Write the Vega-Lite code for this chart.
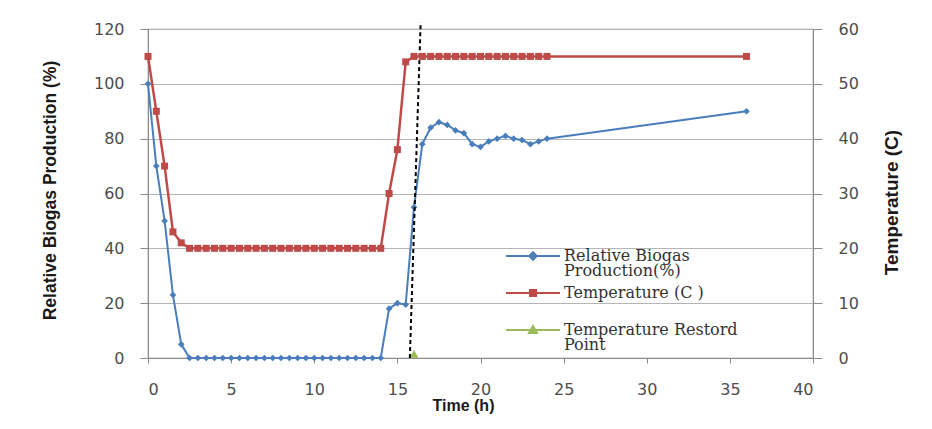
{
  "$schema": "https://vega.github.io/schema/vega-lite/v6.json",
  "width": 665,
  "height": 329,
  "autosize": {"type": "none"},
  "padding": {"left": 148, "top": 29, "right": 119, "bottom": 71},
  "background": "white",
  "config": {
    "view": {"stroke": "#8a8a8a", "strokeWidth": 1.2},
    "axis": {
      "labelFont": "DejaVu Sans",
      "labelFontSize": 16,
      "labelColor": "#4d4d4d",
      "titleFont": "Liberation Sans",
      "titleFontSize": 16,
      "titleFontWeight": "bold",
      "titleColor": "#1a1a1a",
      "domainColor": "#8a8a8a",
      "tickColor": "#8a8a8a",
      "gridColor": "#b5b5b5"
    }
  },
  "datasets": {
    "bio": [
      {"t": 0, "v": 100}, {"t": 0.5, "v": 70}, {"t": 1, "v": 50}, {"t": 1.5, "v": 23}, {"t": 2, "v": 5},
      {"t": 2.5, "v": 0}, {"t": 3, "v": 0}, {"t": 3.5, "v": 0}, {"t": 4, "v": 0}, {"t": 4.5, "v": 0},
      {"t": 5, "v": 0}, {"t": 5.5, "v": 0}, {"t": 6, "v": 0}, {"t": 6.5, "v": 0}, {"t": 7, "v": 0},
      {"t": 7.5, "v": 0}, {"t": 8, "v": 0}, {"t": 8.5, "v": 0}, {"t": 9, "v": 0}, {"t": 9.5, "v": 0},
      {"t": 10, "v": 0}, {"t": 10.5, "v": 0}, {"t": 11, "v": 0}, {"t": 11.5, "v": 0}, {"t": 12, "v": 0},
      {"t": 12.5, "v": 0}, {"t": 13, "v": 0}, {"t": 13.5, "v": 0}, {"t": 14, "v": 0},
      {"t": 14.5, "v": 18}, {"t": 15, "v": 20}, {"t": 15.5, "v": 19.5}, {"t": 16, "v": 55},
      {"t": 16.5, "v": 78}, {"t": 17, "v": 84}, {"t": 17.5, "v": 86}, {"t": 18, "v": 85},
      {"t": 18.5, "v": 83}, {"t": 19, "v": 82}, {"t": 19.5, "v": 78}, {"t": 20, "v": 77},
      {"t": 20.5, "v": 79}, {"t": 21, "v": 80}, {"t": 21.5, "v": 81}, {"t": 22, "v": 80},
      {"t": 22.5, "v": 79.5}, {"t": 23, "v": 78}, {"t": 23.5, "v": 79}, {"t": 24, "v": 80},
      {"t": 36, "v": 90}
    ],
    "temp": [
      {"t": 0, "v": 55}, {"t": 0.5, "v": 45}, {"t": 1, "v": 35}, {"t": 1.5, "v": 23}, {"t": 2, "v": 21},
      {"t": 2.5, "v": 20}, {"t": 3, "v": 20}, {"t": 3.5, "v": 20}, {"t": 4, "v": 20}, {"t": 4.5, "v": 20},
      {"t": 5, "v": 20}, {"t": 5.5, "v": 20}, {"t": 6, "v": 20}, {"t": 6.5, "v": 20}, {"t": 7, "v": 20},
      {"t": 7.5, "v": 20}, {"t": 8, "v": 20}, {"t": 8.5, "v": 20}, {"t": 9, "v": 20}, {"t": 9.5, "v": 20},
      {"t": 10, "v": 20}, {"t": 10.5, "v": 20}, {"t": 11, "v": 20}, {"t": 11.5, "v": 20}, {"t": 12, "v": 20},
      {"t": 12.5, "v": 20}, {"t": 13, "v": 20}, {"t": 13.5, "v": 20}, {"t": 14, "v": 20},
      {"t": 14.5, "v": 30}, {"t": 15, "v": 38}, {"t": 15.5, "v": 54},
      {"t": 16, "v": 55}, {"t": 16.5, "v": 55}, {"t": 17, "v": 55}, {"t": 17.5, "v": 55}, {"t": 18, "v": 55},
      {"t": 18.5, "v": 55}, {"t": 19, "v": 55}, {"t": 19.5, "v": 55}, {"t": 20, "v": 55}, {"t": 20.5, "v": 55},
      {"t": 21, "v": 55}, {"t": 21.5, "v": 55}, {"t": 22, "v": 55}, {"t": 22.5, "v": 55}, {"t": 23, "v": 55},
      {"t": 23.5, "v": 55}, {"t": 24, "v": 55}, {"t": 36, "v": 55}
    ],
    "restore": [{"t": 16, "v": 1.5}],
    "dash": [{"t": 15.75, "v": 0, "t2": 16.4, "v2": 122.5}]
  },
  "encoding": {
    "x": {
      "field": "t",
      "type": "quantitative",
      "scale": {"domain": [0, 40], "nice": false, "zero": false},
      "axis": {
        "title": "Time (h)",
        "values": [0, 5, 10, 15, 20, 25, 30, 35, 40],
        "grid": false,
        "tickSize": 5,
        "labelPadding": 18,
        "titleX": 315,
        "titleY": 47,
        "titleAlign": "center",
        "titleBaseline": "middle",
        "titleFontSize": 16
      }
    }
  },
  "layer": [
    {
      "encoding": {
        "y": {
          "field": "v",
          "type": "quantitative",
          "scale": {"domain": [0, 120], "nice": false},
          "axis": {
            "title": "Relative Biogas Production (%)",
            "values": [0, 20, 40, 60, 80, 100, 120],
            "grid": true,
            "tickSize": 8,
            "labelPadding": 16,
            "titleX": -98,
            "titleY": 161,
            "titleAngle": -90,
            "titleAlign": "center",
            "titleBaseline": "middle",
            "titleFontSize": 17.5
          }
        }
      },
      "layer": [
        {
          "data": {"name": "bio"},
          "mark": {"type": "line", "strokeWidth": 2, "point": {"shape": "diamond", "size": 45, "filled": true}},
          "encoding": {
            "color": {
              "datum": "Relative Biogas Production(%)",
              "scale": {
                "domain": ["Relative Biogas Production(%)", "Temperature (C )", "Temperature Restord Point"],
                "range": ["#4A7EBB", "#BE4B48", "#9BBB59"]
              },
              "legend": {
                "orient": "none",
                "legendX": 355,
                "legendY": 219,
                "title": null,
                "padding": 0,
                "labelFont": "DejaVu Serif",
                "labelFontSize": 16,
                "labelColor": "#333333",
                "labelLimit": 400,
                "symbolSize": 100,
                "symbolOffset": 22,
                "labelOffset": 23,
                "rowPadding": 6,
                "labelExpr": "datum.label == 'Relative Biogas Production(%)' ? ['Relative Biogas', 'Production(%)'] : datum.label == 'Temperature Restord Point' ? ['Temperature Restord', 'Point'] : [datum.label, ' ']",
                "encode": {
                  "symbols": {
                    "update": {
                      "shape": {"signal": "datum.value === 'Relative Biogas Production(%)' ? 'M-5.4,0H5.4M0,-0.75L0.75,0L0,0.75L-0.75,0Z' : datum.value === 'Temperature (C )' ? 'M-5.4,0H5.4M-0.6,-0.6H0.6V0.6H-0.6Z' : 'M-5.4,0H5.4M0,-0.8L0.8,0.6H-0.8Z'"},
                      "fill": {"signal": "datum.value === 'Relative Biogas Production(%)' ? '#4A7EBB' : datum.value === 'Temperature (C )' ? '#BE4B48' : '#9BBB59'"},
                      "stroke": {"signal": "datum.value === 'Relative Biogas Production(%)' ? '#4A7EBB' : datum.value === 'Temperature (C )' ? '#BE4B48' : '#9BBB59'"},
                      "strokeWidth": {"value": 2},
                      "opacity": {"value": 1}
                    }
                  },
                  "labels": {
                    "update": {
                      "lineHeight": {"value": 15}
                    }
                  }
                }
              }
            }
          }
        },
        {
          "data": {"name": "restore"},
          "mark": {"type": "line", "strokeWidth": 2, "point": {"shape": "triangle-up", "size": 80, "filled": true}},
          "encoding": {"color": {"datum": "Temperature Restord Point"}}
        },
        {
          "data": {"name": "dash"},
          "mark": {"type": "rule", "color": "#000000", "strokeWidth": 2, "strokeDash": [4, 3], "clip": false},
          "encoding": {
            "x2": {"field": "t2"},
            "y2": {"field": "v2"}
          }
        }
      ]
    },
    {
      "data": {"name": "temp"},
      "mark": {"type": "line", "strokeWidth": 2.5, "point": {"shape": "square", "size": 49, "filled": true}},
      "encoding": {
        "y": {
          "field": "v",
          "type": "quantitative",
          "scale": {"domain": [0, 60], "nice": false},
          "axis": {
            "orient": "right",
            "title": "Temperature (C)",
            "values": [0, 10, 20, 30, 40, 50, 60],
            "grid": false,
            "tickSize": 9,
            "labelPadding": 16,
            "titleX": 78,
            "titleY": 173,
            "titleAngle": -90,
            "titleAlign": "center",
            "titleBaseline": "middle",
            "titleFontSize": 19
          }
        },
        "color": {"datum": "Temperature (C )"}
      }
    }
  ],
  "resolve": {"scale": {"y": "independent"}}
}
